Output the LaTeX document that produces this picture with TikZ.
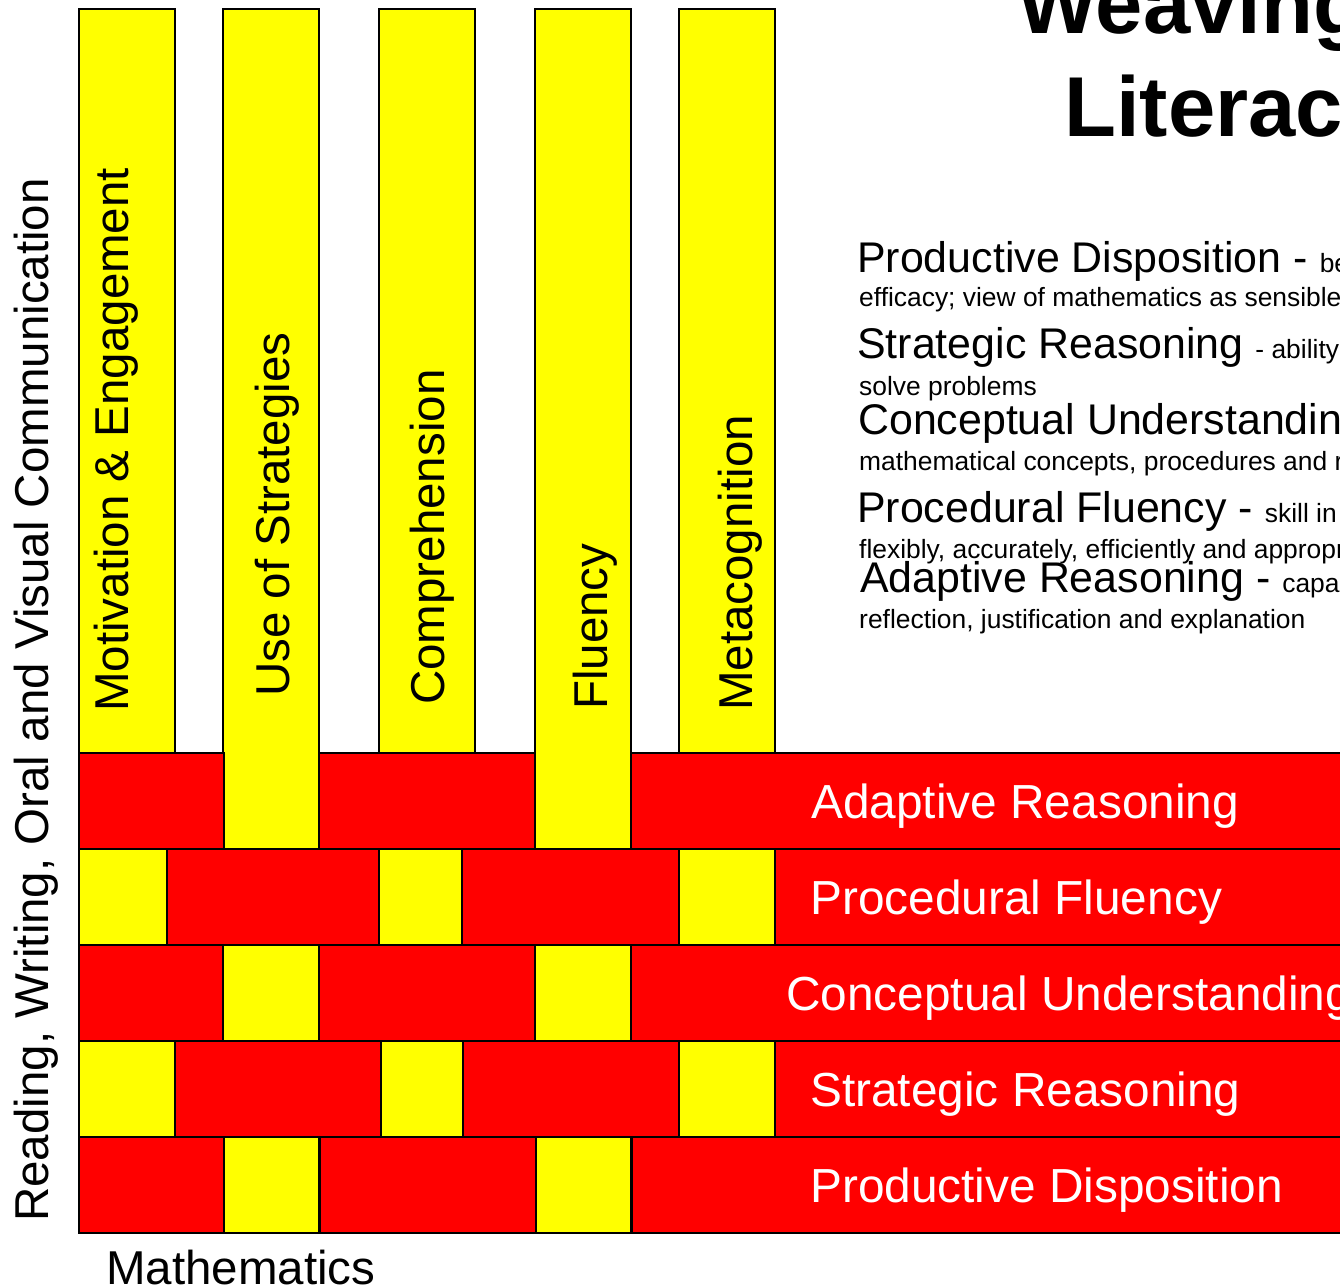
\documentclass[tikz,border=0pt]{standalone}
\usepackage{fontspec}
\setmainfont{Liberation Sans}
\definecolor{threadyellow}{RGB}{255,255,0}
\definecolor{weftred}{RGB}{255,0,0}
\newcommand\labelfont{\fontsize{47.5}{57}\selectfont}
\newcommand\weftfont{\fontsize{47.8}{57}\selectfont}
\newcommand\termfont{\fontsize{42.9}{50}\selectfont}
\newcommand\glossfont{\fontsize{26.4}{31}\selectfont}
\newcommand\titlefont{\fontsize{85}{100}\selectfont\bfseries}
\begin{document}
\begin{tikzpicture}[x=1pt,y=-1pt,
  strand/.style={draw=black,line width=2pt},
  thread/.style={strand,fill=threadyellow},
  weft/.style={strand,fill=weftred},
  collabel/.style={rotate=90,anchor=base west,inner sep=0pt,font=\labelfont},
  rowlabel/.style={anchor=base west,inner sep=0pt,text=white,font=\weftfont},
  gloss/.style={anchor=base west,inner sep=0pt},
  heading/.style={anchor=base west,inner sep=0pt,font=\titlefont}]
\useasboundingbox (0,0) rectangle (1340,1285);
\clip (0,0) rectangle (1340,1285);

% vertical threads (literacy)
\foreach \x in {79,223,379,535,679}
  \draw[thread] (\x,9) rectangle ++(96,1224);

% horizontal weft (mathematics), drawn over the threads where it passes on top
\foreach \a/\b in {79/224,319/535,631/1350}
  \draw[weft] (\a,753) rectangle (\b,849);
\foreach \a/\b in {167/379,462/679,775/1350}
  \draw[weft] (\a,849) rectangle (\b,945);
\foreach \a/\b in {79/223,319/535,631/1350}
  \draw[weft] (\a,945) rectangle (\b,1041);
\foreach \a/\b in {175/381,463/679,775/1350}
  \draw[weft] (\a,1041) rectangle (\b,1137);
\foreach \a/\b in {79/224,320/536,632/1350}
  \draw[weft] (\a,1137) rectangle (\b,1233);

% thread labels
\node[collabel] (motivation) at (128,712) {Motivation \& Engagement};
\node[collabel] (strategies) at (289,697) {Use of Strategies};
\node[collabel] (comprehension) at (444,705) {Comprehension};
\node[collabel] (fluency) at (607,710) {Fluency};
\node[collabel] (metacognition) at (752,711) {Metacognition};

% weft labels
\node[rowlabel] (adaptive) at (811,818) {Adaptive Reasoning};
\node[rowlabel] (procedural) at (810,914) {Procedural Fluency};
\node[rowlabel] (conceptual) at (786,1010) {Conceptual Understanding};
\node[rowlabel] (strategic) at (810,1106) {Strategic Reasoning};
\node[rowlabel] (productive) at (810,1202) {Productive Disposition};

% axis labels
\node[collabel] (literacy) at (48,1222) {Reading, Writing, Oral and Visual Communication};
\node[gloss,font=\labelfont] (mathematics) at (106,1284) {Mathematics};

% title
\node[heading] (title1) at (1017,33) {Weaving};
\node[heading] (title2) at (1064,136) {Literacy};

% definitions of the strands
\node[gloss] (d1) at (857,272) {\termfont Productive Disposition - \glossfont belief in diligence};
\node[gloss] (d1b) at (859,306) {\glossfont efficacy; view of mathematics as sensible, useful};
\node[gloss] (d2) at (857,358) {\termfont Strategic Reasoning \glossfont - ability to formulate};
\node[gloss] (d2b) at (859,395) {\glossfont solve problems};
\node[gloss] (d3) at (858,434) {\termfont Conceptual Understanding};
\node[gloss] (d3b) at (859,470) {\glossfont mathematical concepts, procedures and relations};
\node[gloss] (d4) at (857,522) {\termfont Procedural Fluency - \glossfont skill in carrying out};
\node[gloss] (d4b) at (859,558) {\glossfont flexibly, accurately, efficiently and appropriately};
\node[gloss] (d5) at (860,592) {\termfont Adaptive Reasoning - \glossfont capacity for logical};
\node[gloss] (d5b) at (859,628) {\glossfont reflection, justification and explanation};
\end{tikzpicture}
\end{document}
